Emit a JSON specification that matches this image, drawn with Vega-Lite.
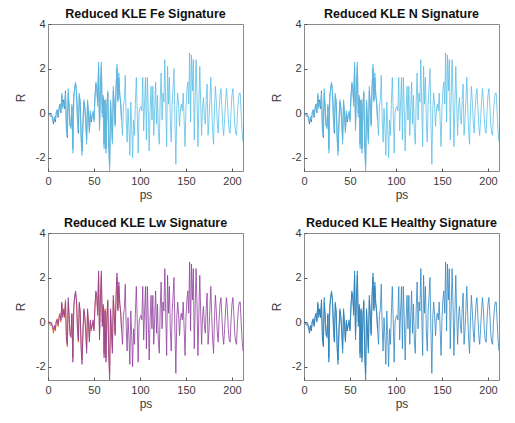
{
  "$schema": "https://vega.github.io/schema/vega-lite/v6.json",
  "background": "white",
  "padding": {"left": 13, "top": 7, "right": 5, "bottom": 5},
  "datasets": {
    "sig": [
      {"t":0,"r":0},{"t":1,"r":0.02},{"t":2,"r":-0.05},{"t":3,"r":-0.1},{"t":4,"r":-0.05},{"t":5,"r":-0.2},{"t":6,"r":-0.35},{"t":7,"r":-0.15},{"t":8,"r":-0.3},{"t":9,"r":0.05},
      {"t":10,"r":0.1},{"t":11,"r":-0.1},{"t":12,"r":0.2},{"t":13,"r":0.3},{"t":14,"r":0.1},{"t":15,"r":0.9},{"t":16,"r":0.2},{"t":17,"r":0.5},{"t":18,"r":0.3},{"t":19,"r":0.9},
      {"t":20,"r":-0.8},{"t":21,"r":-1.0},{"t":22,"r":1.1},{"t":23,"r":0.2},{"t":24,"r":-0.5},{"t":25,"r":-0.7},{"t":26,"r":0.4},{"t":27,"r":-1.8},{"t":28,"r":0.6},{"t":29,"r":1.2},
      {"t":30,"r":1.4},{"t":31,"r":1.0},{"t":32,"r":-0.3},{"t":33,"r":-0.8},{"t":34,"r":0.9},{"t":35,"r":0.4},{"t":36,"r":-1.2},{"t":37,"r":-1.9},{"t":38,"r":-0.4},{"t":39,"r":0.6},
      {"t":40,"r":0.2},{"t":41,"r":-0.3},{"t":42,"r":-1.4},{"t":43,"r":0.6},{"t":44,"r":-0.1},{"t":45,"r":-0.9},{"t":46,"r":0.1},{"t":47,"r":-0.3},{"t":48,"r":-0.2},{"t":49,"r":0.1},
      {"t":50,"r":-0.4},{"t":51,"r":0.6},{"t":52,"r":1.4},{"t":53,"r":1.2},{"t":54,"r":0.3},{"t":55,"r":2.3},{"t":56,"r":-0.8},{"t":57,"r":1.0},{"t":58,"r":2.3},{"t":59,"r":-0.2},
      {"t":60,"r":0.8},{"t":61,"r":-1.6},{"t":62,"r":0.5},{"t":63,"r":-1.8},{"t":64,"r":0.2},{"t":65,"r":1.0},{"t":66,"r":-1.5},{"t":67,"r":-2.6},{"t":68,"r":0.6},{"t":69,"r":-0.5},
      {"t":70,"r":-1.4},{"t":71,"r":1.2},{"t":72,"r":0.3},{"t":73,"r":-0.6},{"t":74,"r":1.2},{"t":75,"r":2.2},{"t":76,"r":0.5},{"t":77,"r":1.8},{"t":78,"r":0.9},{"t":79,"r":0.4},
      {"t":80,"r":-0.4},{"t":81,"r":-1.0},{"t":82,"r":0.3},{"t":83,"r":0.6},{"t":84,"r":1.7},{"t":85,"r":-0.2},{"t":86,"r":-1.3},{"t":87,"r":0.2},{"t":88,"r":-0.7},{"t":89,"r":-1.9},
      {"t":90,"r":0.5},{"t":91,"r":-0.6},{"t":92,"r":-2.0},{"t":93,"r":-0.3},{"t":94,"r":-1.0},{"t":95,"r":0.4},{"t":96,"r":1.6},{"t":97,"r":0.1},{"t":98,"r":-1.8},{"t":99,"r":0.0},
      {"t":100,"r":0.2},{"t":101,"r":0.3},{"t":102,"r":0.1},{"t":103,"r":1.6},{"t":104,"r":-0.8},{"t":105,"r":0.5},{"t":106,"r":1.6},{"t":107,"r":-1.2},{"t":108,"r":1.6},{"t":109,"r":0.2},
      {"t":110,"r":-1.7},{"t":111,"r":0.1},{"t":112,"r":1.2},{"t":113,"r":-0.3},{"t":114,"r":1.2},{"t":115,"r":-1.0},{"t":116,"r":0.2},{"t":117,"r":1.4},{"t":118,"r":-0.5},{"t":119,"r":0.8},
      {"t":120,"r":-0.9},{"t":121,"r":-1.4},{"t":122,"r":0.6},{"t":123,"r":1.8},{"t":124,"r":-0.3},{"t":125,"r":0.9},{"t":126,"r":0.5},{"t":127,"r":2.4},{"t":128,"r":0.3},{"t":129,"r":-1.5},
      {"t":130,"r":2.1},{"t":131,"r":0.4},{"t":132,"r":1.6},{"t":133,"r":-0.4},{"t":134,"r":-1.3},{"t":135,"r":0.5},{"t":136,"r":1.2},{"t":137,"r":2.0},{"t":138,"r":-0.4},{"t":139,"r":-2.3},
      {"t":140,"r":0.2},{"t":141,"r":0.9},{"t":142,"r":0.3},{"t":143,"r":-0.6},{"t":144,"r":0.2},{"t":145,"r":0.4},{"t":146,"r":0.1},{"t":147,"r":0.9},{"t":148,"r":-0.3},{"t":149,"r":-1.5},
      {"t":150,"r":0.2},{"t":151,"r":1.0},{"t":152,"r":1.4},{"t":153,"r":0.4},{"t":154,"r":2.7},{"t":155,"r":-0.4},{"t":156,"r":2.6},{"t":157,"r":1.0},{"t":158,"r":2.4},{"t":159,"r":-1.2},
      {"t":160,"r":0.6},{"t":161,"r":2.4},{"t":162,"r":0.8},{"t":163,"r":-1.5},{"t":164,"r":0.3},{"t":165,"r":2.1},{"t":166,"r":0.4},{"t":167,"r":-1.0},{"t":168,"r":0.2},{"t":169,"r":0.7},
      {"t":170,"r":-0.1},{"t":171,"r":-0.5},{"t":172,"r":0.6},{"t":173,"r":1.3},{"t":174,"r":-1.0},{"t":175,"r":-0.4},{"t":176,"r":0.6},{"t":177,"r":1.6},{"t":178,"r":0.3},{"t":179,"r":-0.8},
      {"t":180,"r":-1.4},{"t":181,"r":0.2},{"t":182,"r":1.2},{"t":183,"r":0.5},{"t":184,"r":-0.4},{"t":185,"r":-0.9},{"t":186,"r":0.1},{"t":187,"r":0.8},{"t":188,"r":1.1},{"t":189,"r":0.3},
      {"t":190,"r":-0.6},{"t":191,"r":-1.0},{"t":192,"r":-0.3},{"t":193,"r":0.5},{"t":194,"r":1.1},{"t":195,"r":0.6},{"t":196,"r":-0.3},{"t":197,"r":-0.8},{"t":198,"r":-0.9},{"t":199,"r":0.1},
      {"t":200,"r":0.8},{"t":201,"r":1.1},{"t":202,"r":0.4},{"t":203,"r":-0.5},{"t":204,"r":-0.9},{"t":205,"r":-1.0},{"t":206,"r":0.0},{"t":207,"r":0.6},{"t":208,"r":0.9},{"t":209,"r":0.9},
      {"t":210,"r":0.0},{"t":211,"r":-0.8},{"t":212,"r":-1.3}
    ],
    "sig2": [
      {"t":0,"r":0},{"t":1,"r":0.0},{"t":2,"r":-0.1},{"t":3,"r":-0.15},{"t":4,"r":-0.1},{"t":5,"r":-0.3},{"t":6,"r":-0.5},{"t":7,"r":-0.2},{"t":8,"r":-0.4},{"t":9,"r":0.0},
      {"t":10,"r":0.15},{"t":11,"r":-0.2},{"t":12,"r":0.25},{"t":13,"r":0.4},{"t":14,"r":0.0},{"t":15,"r":0.8},{"t":16,"r":0.3},{"t":17,"r":0.6},{"t":18,"r":0.2},{"t":19,"r":1.0},
      {"t":20,"r":-0.6},{"t":21,"r":-1.1},{"t":22,"r":0.9},{"t":23,"r":0.3},{"t":24,"r":-0.6},{"t":25,"r":-0.6},{"t":26,"r":0.3},{"t":27,"r":-1.6},{"t":28,"r":0.7},{"t":29,"r":1.1},
      {"t":30,"r":1.3},{"t":31,"r":0.9},{"t":32,"r":-0.2},{"t":33,"r":-0.9},{"t":34,"r":0.8},{"t":35,"r":0.5},{"t":36,"r":-1.0},{"t":37,"r":-1.7},{"t":38,"r":-0.5},{"t":39,"r":0.5},
      {"t":40,"r":0.3},{"t":41,"r":-0.4},{"t":42,"r":-1.2},{"t":43,"r":0.5},{"t":44,"r":0.0},{"t":45,"r":-0.8},{"t":46,"r":0.0},{"t":47,"r":-0.4},{"t":48,"r":-0.1},{"t":49,"r":0.0},
      {"t":50,"r":-0.3},{"t":51,"r":0.7},{"t":52,"r":1.3},{"t":53,"r":1.1},{"t":54,"r":0.5},{"t":55,"r":2.1},{"t":56,"r":-0.6},{"t":57,"r":1.1},{"t":58,"r":2.1},{"t":59,"r":0.0},
      {"t":60,"r":0.7},{"t":61,"r":-1.4},{"t":62,"r":0.6},{"t":63,"r":-1.6},{"t":64,"r":0.3},{"t":65,"r":0.9},{"t":66,"r":-1.3},{"t":67,"r":-2.3},{"t":68,"r":0.5},{"t":69,"r":-0.4},
      {"t":70,"r":-1.2},{"t":71,"r":1.0},{"t":72,"r":0.4},{"t":73,"r":-0.5},{"t":74,"r":1.1},{"t":75,"r":2.0},{"t":76,"r":0.6},{"t":77,"r":1.6},{"t":78,"r":0.8},{"t":79,"r":0.5},
      {"t":80,"r":-0.3}
    ]
  },
  "config": {
    "font": "Liberation Sans",
    "view": {"stroke": "#8a8a8a", "strokeWidth": 1},
    "axis": {
      "grid": false,
      "domain": false,
      "tickColor": "#555555",
      "tickSize": -3,
      "labelFont": "Liberation Sans",
      "labelFontSize": 11,
      "labelColor": "#3a3a3a",
      "labelExpr": "'' + datum.value",
      "titleFont": "Liberation Sans",
      "titleFontSize": 12,
      "titleFontWeight": "normal",
      "titleColor": "#3a3a3a"
    },
    "axisX": {"labelPadding": 7, "titlePadding": 3, "labelFlush": false},
    "axisY": {"labelPadding": 6, "titlePadding": 8},
    "title": {"fontSize": 12.5, "fontWeight": "bold", "color": "#111111", "font": "Liberation Sans"}
  },
  "spacing": 15,
  "vconcat": [
    {
      "spacing": 25,
      "hconcat": [
        {
          "title": {"text": "Reduced KLE Fe Signature", "offset": -2},
          "width": 195, "height": 147,
          "encoding": {
            "x": {"field": "t", "type": "quantitative", "title": "ps", "scale": {"domain": [0, 212], "nice": false}, "axis": {"values": [0, 50, 100, 150, 200]}},
            "y": {"field": "r", "type": "quantitative", "title": "R", "scale": {"domain": [-2.6, 4], "nice": false}, "axis": {"values": [-2, 0, 2, 4]}}
          },
          "layer": [
            {"data": {"name": "sig2"}, "mark": {"type": "line", "color": "#1f6fae", "strokeWidth": 0.7, "clip": true}},
            {"data": {"name": "sig"}, "mark": {"type": "line", "color": "#5bbfe6", "strokeWidth": 0.8, "clip": true}}
          ]
        },
        {
          "title": {"text": "Reduced KLE N Signature", "offset": -2},
          "width": 195, "height": 147,
          "encoding": {
            "x": {"field": "t", "type": "quantitative", "title": "ps", "scale": {"domain": [0, 212], "nice": false}, "axis": {"values": [0, 50, 100, 150, 200]}},
            "y": {"field": "r", "type": "quantitative", "title": "R", "scale": {"domain": [-2.6, 4], "nice": false}, "axis": {"values": [-2, 0, 2, 4]}}
          },
          "layer": [
            {"data": {"name": "sig2"}, "mark": {"type": "line", "color": "#1f6fae", "strokeWidth": 0.7, "clip": true}},
            {"data": {"name": "sig"}, "mark": {"type": "line", "color": "#5bbfe6", "strokeWidth": 0.8, "clip": true}}
          ]
        }
      ]
    },
    {
      "spacing": 25,
      "hconcat": [
        {
          "title": {"text": "Reduced KLE Lw Signature", "offset": -2},
          "width": 195, "height": 147,
          "encoding": {
            "x": {"field": "t", "type": "quantitative", "title": "ps", "scale": {"domain": [0, 212], "nice": false}, "axis": {"values": [0, 50, 100, 150, 200]}},
            "y": {"field": "r", "type": "quantitative", "title": "R", "scale": {"domain": [-2.6, 4], "nice": false}, "axis": {"values": [-2, 0, 2, 4]}}
          },
          "layer": [
            {"data": {"name": "sig2"}, "mark": {"type": "line", "color": "#d95319", "strokeWidth": 0.8, "clip": true}},
            {"data": {"name": "sig"}, "mark": {"type": "line", "color": "#8f3f9e", "strokeWidth": 0.8, "clip": true}}
          ]
        },
        {
          "title": {"text": "Reduced KLE Healthy Signature", "offset": -2},
          "width": 195, "height": 147,
          "encoding": {
            "x": {"field": "t", "type": "quantitative", "title": "ps", "scale": {"domain": [0, 212], "nice": false}, "axis": {"values": [0, 50, 100, 150, 200]}},
            "y": {"field": "r", "type": "quantitative", "title": "R", "scale": {"domain": [-2.6, 4], "nice": false}, "axis": {"values": [-2, 0, 2, 4]}}
          },
          "layer": [
            {"data": {"name": "sig2"}, "mark": {"type": "line", "color": "#0b5a94", "strokeWidth": 0.7, "clip": true}},
            {"data": {"name": "sig"}, "mark": {"type": "line", "color": "#2f86c2", "strokeWidth": 0.8, "clip": true}}
          ]
        }
      ]
    }
  ]
}
